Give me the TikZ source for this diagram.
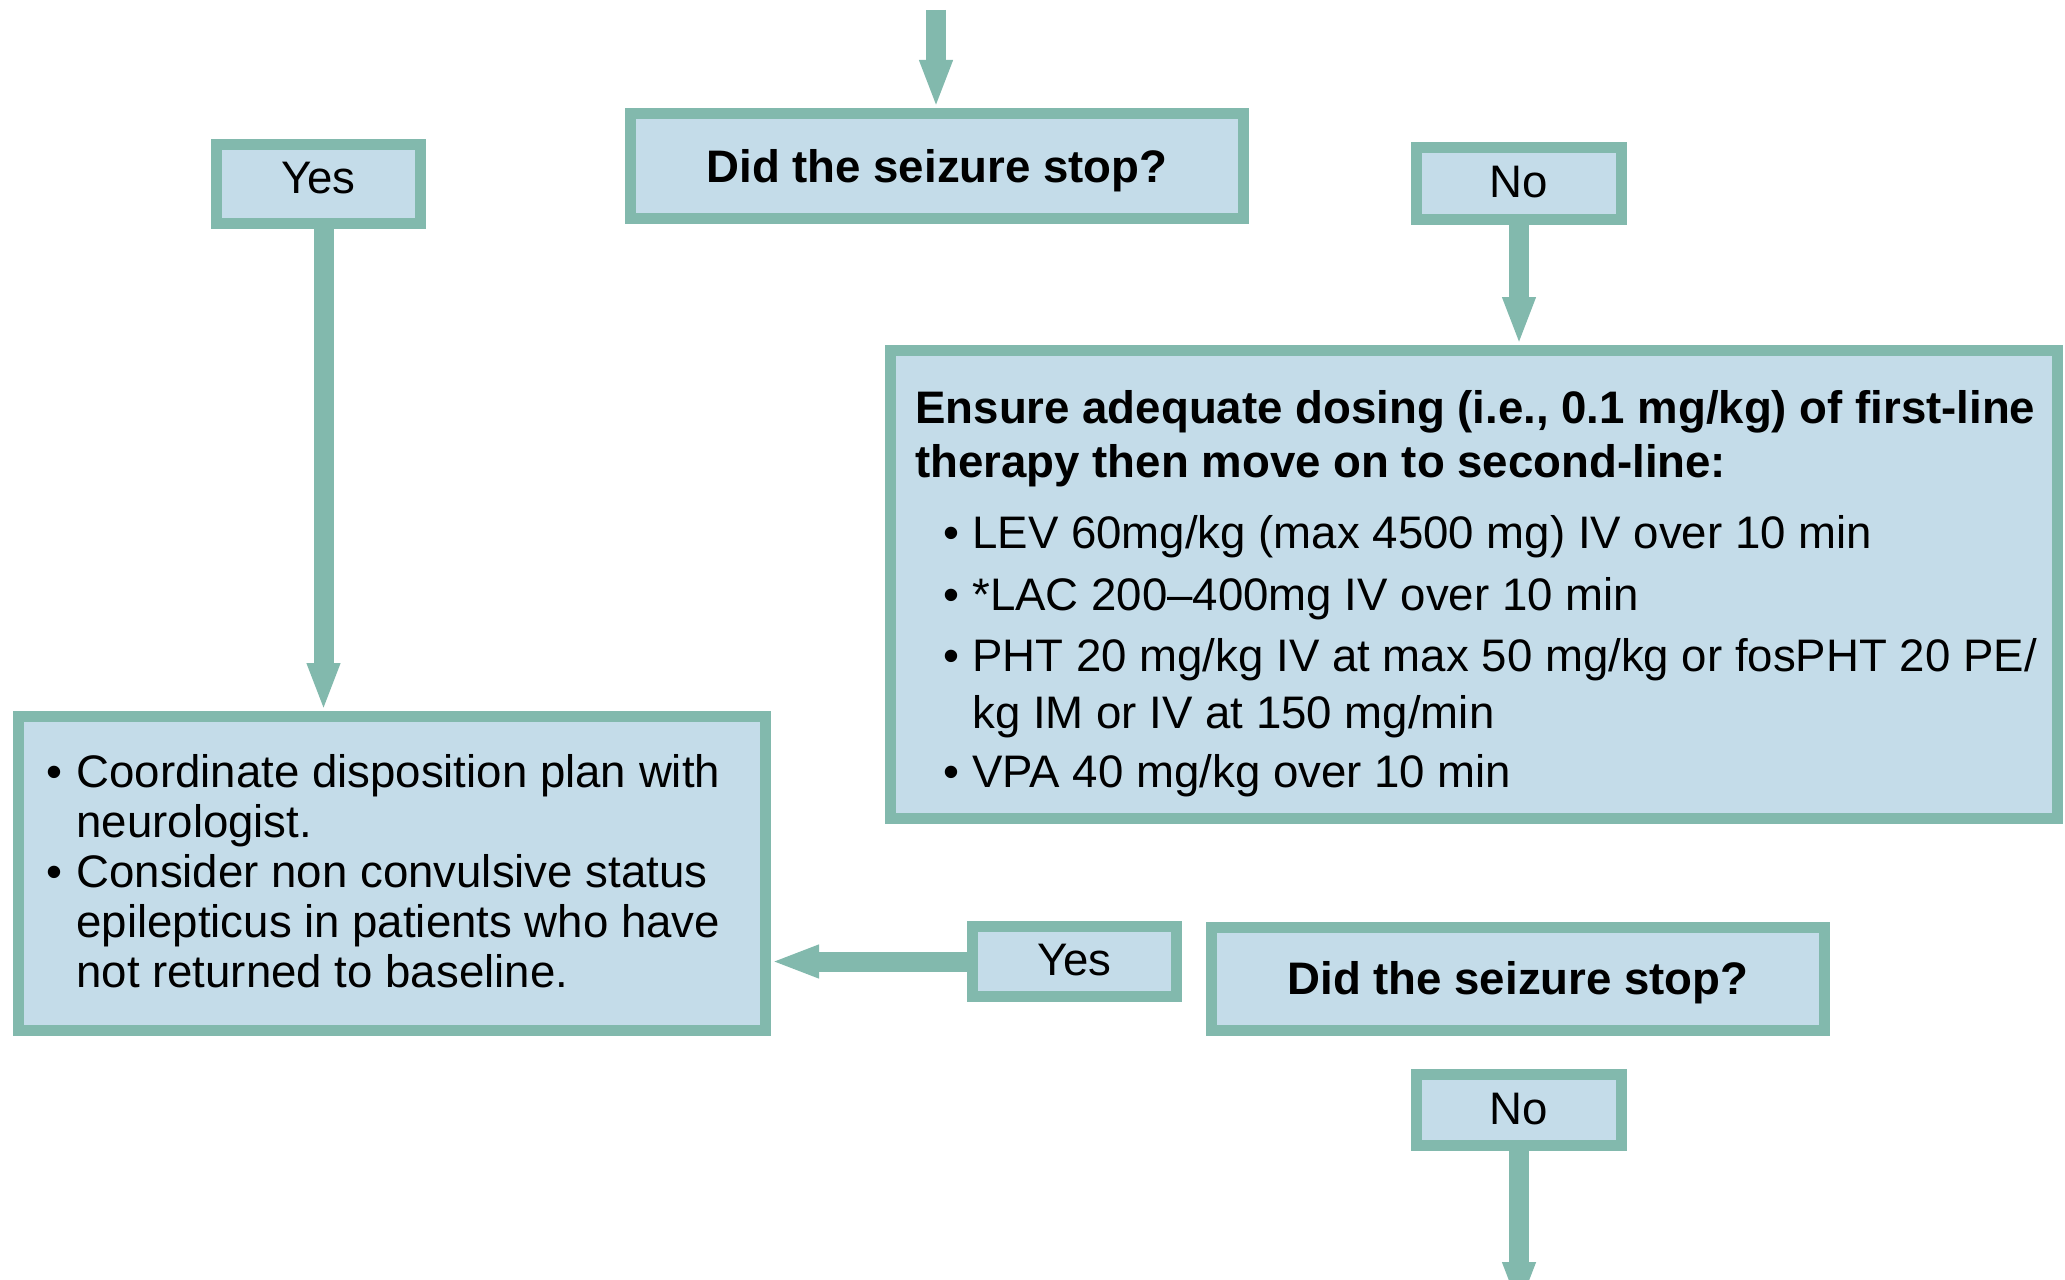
\documentclass[tikz,border=0pt]{standalone}
\usepackage{fontspec}
\setmainfont{Liberation Sans}
\usetikzlibrary{arrows.meta}
\definecolor{boxline}{RGB}{130,185,173}
\definecolor{boxfill}{RGB}{196,220,233}
\newcommand{\flowfont}{\fontsize{22.8pt}{25pt}\selectfont}
\begin{document}
\begin{tikzpicture}[x=0.5pt,y=-0.5pt,
  box/.style={draw=boxline, fill=boxfill, line width=5.5pt, inner sep=0pt, font=\flowfont},
  boldbox/.style={box, font=\flowfont\bfseries},
  flow/.style={draw=boxline, line width=10pt, -{Triangle[length=24pt,width=15pt]}},
  txt/.style={anchor=base west, inner sep=0pt, font=\flowfont},
  boldtxt/.style={txt, font=\flowfont\bfseries}]
\clip (0,0) rectangle (2065,1279);

% boxes
\node[boldbox, minimum width=306.5pt, minimum height=52.5pt, text height=16pt, text depth=0pt] (q1) at (937,166) {Did the seizure stop?};
\node[box, minimum width=102pt, minimum height=39.5pt, text height=10pt, text depth=0pt] (yes1) at (318.5,183.5) {Yes};
\node[box, minimum width=102.5pt, minimum height=36pt, text height=14pt, text depth=0pt] (no1) at (1519,183.5) {No};
\node[box, minimum width=583.5pt, minimum height=234pt] (big) at (1474,584.5) {};
\node[box, minimum width=373.5pt, minimum height=157pt] (coord) at (392,873.5) {};
\node[boldbox, minimum width=306.5pt, minimum height=51.5pt, text height=15pt, text depth=0pt] (q2) at (1518,979) {Did the seizure stop?};
\node[box, minimum width=102pt, minimum height=35pt, text height=13.5pt, text depth=0pt] (yes2) at (1074.5,961.5) {Yes};
\node[box, minimum width=102.5pt, minimum height=35.5pt, text height=14pt, text depth=0pt] (no2) at (1519,1110) {No};

% text of the second-line box
\node[boldtxt] (h1) at (915,423) {Ensure adequate dosing (i.e., 0.1 mg/kg) of first-line};
\node[boldtxt] (h2) at (915,477) {therapy then move on to second-line:};
\node[txt] (bu1) at (943,548) {•};
\node[txt] (l1) at (972,548) {LEV 60mg/kg (max 4500 mg) IV over 10 min};
\node[txt] (bu2) at (943,610) {•};
\node[txt] (l2) at (972,610) {*LAC 200–400mg IV over 10 min};
\node[txt] (bu3) at (943,671) {•};
\node[txt] (l3) at (972,671) {PHT 20 mg/kg IV at max 50 mg/kg or fosPHT 20 PE/};
\node[txt] (l3b) at (972,728) {kg IM or IV at 150 mg/min};
\node[txt] (bu4) at (943,787) {•};
\node[txt] (l4) at (972,787) {VPA 40 mg/kg over 10 min};

% text of the disposition box
\node[txt] (cb1) at (46,787) {•};
\node[txt] (c1) at (76,787) {Coordinate disposition plan with};
\node[txt] (c1b) at (76,837) {neurologist.};
\node[txt] (cb2) at (46,887) {•};
\node[txt] (c2) at (76,887) {Consider non convulsive status};
\node[txt] (c2b) at (76,937) {epilepticus in patients who have};
\node[txt] (c2c) at (76,987) {not returned to baseline.};

% connectors
\coordinate (topstart) at (936,10);
\coordinate (botend) at (1519,1310);
\draw[flow] (topstart) -- (topstart |- q1.north);
\draw[flow] ([xshift=2.5pt]yes1.south) -- ([xshift=2.5pt]yes1.south |- coord.north);
\draw[flow] (no1.south) -- (big.north -| no1.south);
\draw[flow] (yes2.west) -- (yes2.west -| coord.east);
\draw[flow] (no2.south) -- (botend);
\end{tikzpicture}
\end{document}
